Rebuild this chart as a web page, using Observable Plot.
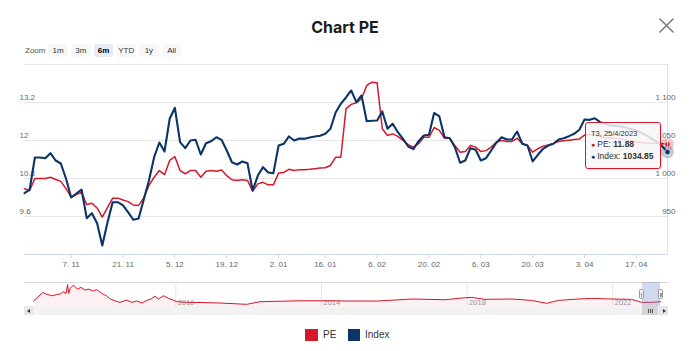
<!DOCTYPE html>
<html>
<head>
<meta charset="utf-8">
<script src="https://cdn.jsdelivr.net/npm/d3@7"></script>
<script src="https://cdn.jsdelivr.net/npm/@observablehq/plot@0.6"></script>
<style>
html,body{margin:0;padding:0;background:#fff;}
#wrap{position:relative;width:690px;height:351px;overflow:hidden;font-family:"Liberation Sans",Arial,sans-serif;background:#fff;}
#title{position:absolute;left:0;top:17px;width:690px;text-align:center;font-family:Inter,"Liberation Sans",sans-serif;font-weight:700;font-size:16px;line-height:20px;color:#1c1c1c;}
#close{position:absolute;left:658px;top:17px;width:17px;height:17px;}
#zoomrow{position:absolute;left:25px;top:44px;height:13px;display:flex;align-items:center;font-size:8px;color:#333;}
#zoomrow .lbl{width:23.3px;color:#555;}
#zoomrow .btn{width:19.7px;height:13px;line-height:13px;margin-right:3px;text-align:center;background:#f7f7f7;border-radius:2px;color:#333;}
#zoomrow .btn.sel{background:#e6ebf5;font-weight:bold;color:#000;}
.layer{position:absolute;left:0;}
#tip{position:absolute;left:585px;top:122px;width:74px;height:45px;border:1px solid #d5182b;border-radius:3px;background:rgba(247,247,247,0.85);box-shadow:1px 1px 2px rgba(0,0,0,0.12);color:#333;}
#tip div{position:absolute;left:5px;white-space:nowrap;line-height:11px;}
#tip .h{top:4.5px;font-size:7.5px;}
#tip .l1{top:16px;font-size:8.5px;}
#tip .l2{top:28px;font-size:8.5px;}
#tip .dot{font-size:7px;margin-right:2px;}
#navtop{position:absolute;left:24px;top:282px;width:644px;height:1px;background:#d8d8d8;}
#track{position:absolute;left:24px;top:306px;width:644px;height:9px;background:#f2f2f2;}
.sbtn{position:absolute;top:306px;width:9px;height:9px;background:#e6e6e6;}
.arr{position:absolute;top:2.5px;width:0;height:0;border-top:2px solid transparent;border-bottom:2px solid transparent;}
#thumb{position:absolute;top:306px;height:9px;background:#d4d4d4;}
#grip{position:absolute;top:2.5px;width:5px;height:4px;background:repeating-linear-gradient(90deg,#555 0 1px,transparent 1px 2px);}
.handle{position:absolute;top:289px;width:5px;height:10px;background:#f2f2f2;border:1px solid #999;border-radius:1.5px;box-sizing:border-box;}
.handle i{position:absolute;top:2.5px;width:0;height:4px;border-left:1px solid #999;}
#legend{position:absolute;top:329px;left:0;width:690px;height:12px;font-size:10px;color:#333;}
#legend .sq{position:absolute;top:0;width:12.5px;height:12px;}
#legend .tx{position:absolute;top:0;line-height:12px;}
</style>
</head>
<body>
<div id="wrap">
  <div id="title">Chart PE</div>
  <svg id="close" viewBox="0 0 17 17"><path d="M1.5 1.5L15.5 15.5M15.5 1.5L1.5 15.5" stroke="#7a7a7a" stroke-width="1.5" fill="none"/></svg>
  <div id="zoomrow"></div>
  <div id="main1" class="layer" style="top:0"></div>
  <div id="main2" class="layer" style="top:0"></div>
  <div id="tip"></div>
  <div id="navtop"></div>
  <div id="navbox" class="layer" style="top:278px"></div>
  <div id="track"></div>
  <div class="sbtn" style="left:24px"><div class="arr" style="left:3px;border-right:3px solid #333"></div></div>
  <div class="sbtn" style="left:659px"><div class="arr" style="left:3.5px;border-left:3px solid #333"></div></div>
  <div id="thumb"><div id="grip"></div></div>
  <div id="legend"></div>
</div>
<script>
// ---------- data ----------
const peValues = [
10.48,10.42,10.80,10.80,10.80,10.84,10.77,10.71,10.48,10.21,
10.29,10.37,9.98,10.02,9.87,9.58,9.88,10.18,10.18,10.12,
10.07,9.96,9.95,10.19,10.58,10.84,11.05,10.92,11.37,11.49,
11.05,10.95,11.05,11.05,10.84,11.03,11.05,11.03,11.07,10.89,
10.76,10.74,10.76,10.74,10.40,10.63,10.68,10.60,10.60,10.97,
10.99,11.09,11.05,11.08,11.08,11.09,11.11,11.13,11.14,11.21,
11.47,11.47,13.00,13.14,13.19,13.32,13.74,13.84,13.82,12.37,
12.16,12.21,12.13,12.00,11.87,11.79,11.90,12.10,12.10,12.41,
12.32,12.07,12.07,11.84,11.63,11.65,11.84,11.79,11.65,11.68,
11.79,11.95,12.00,11.97,11.97,12.07,11.90,11.84,11.63,11.74,
11.82,11.86,11.91,11.97,11.99,12.01,12.03,12.05,12.17,12.19,
12.17,12.13,12.09,12.08,12.06,12.05,12.02,11.98,11.95,11.94,
11.92,11.91,11.91,11.90,11.88
];
const indexValues = [
980.7,985.5,1027.6,1027.6,1026.7,1033.3,1023.7,1019.7,1000.0,975.0,
980.3,985.5,947.8,954.3,941.2,911.8,942.1,968.8,968.8,964.5,
955.3,945.7,947.4,972.4,997.4,1028.0,1047.4,1035.5,1078.6,1093.0,
1047.8,1039.9,1050.0,1050.9,1031.6,1046.4,1049.1,1054.3,1050.9,1036.8,
1021.4,1018.4,1022.4,1020.1,984.2,1003.9,1014.9,1007.9,1007.0,1043.4,
1045.7,1055.3,1050.0,1052.6,1052.2,1053.9,1055.3,1056.2,1058.8,1065.4,
1086.8,1098.3,1106.6,1115.8,1100.4,1109.2,1075.4,1075.9,1076.3,1088.2,
1065.4,1072.0,1060.9,1052.2,1042.1,1038.6,1049.1,1056.6,1057.5,1086.2,
1081.6,1054.3,1053.0,1041.2,1020.7,1023.7,1039.9,1037.8,1023.7,1026.7,
1036.8,1047.0,1054.3,1051.3,1051.3,1061.8,1045.7,1043.4,1022.4,1031.2,
1039.1,1043.4,1045.7,1051.3,1053.0,1055.7,1058.8,1064.1,1077.6,1077.2,
1079.3,1074.1,1071.7,1069.7,1069.1,1068.4,1067.1,1065.1,1063.2,1059.9,
1056.6,1052.0,1048.0,1042.1,1034.85
];
// x tick labels and the trading-day index they sit on
const tickLabels = ["7. 11","21. 11","5. 12","19. 12","2. 01","16. 01","6. 02","20. 02","6. 03","20. 03","3. 04","17. 04"];
const tickIndex  = [9,19,29,39,49,58,68,78,88,98,108,118];
const peDomain = [8.4, 14.4];
const peTicks = [9.6, 10.8, 12, 13.2, 14.4];
const indexDomain = [900, 1150];
const indexTicks = [950, 1000, 1050, 1100];
const hoverLabel = "T3, 25/4/2023";
const windowStart = "2022-10-25", windowEnd = "2023-04-25";

// navigator (long history of PE)
const navDates = ["2006-02-03","2006-05-08","2006-06-18","2006-08-15","2006-09-24","2006-10-27","2006-11-28","2006-12-27",
"2007-01-11","2007-01-22","2007-02-06","2007-03-10","2007-04-20","2007-05-26","2007-07-05","2007-08-08","2007-09-28","2007-10-31","2007-12-20",
"2008-02-03","2008-03-15","2008-05-05","2008-06-20","2008-08-25","2008-10-15","2008-12-05",
"2009-01-27","2009-03-15","2009-04-28","2009-06-07","2009-07-10","2009-08-30","2009-10-20","2009-12-05",
"2010-01-12","2010-04-20","2010-09-01","2011-03-20","2011-12-13","2012-04-22","2013-05-30","2014-04-26","2014-08-25",
"2015-07-20","2016-06-25","2017-05-22","2017-12-10","2018-02-17","2018-06-28","2019-03-25","2019-10-08",
"2020-03-10","2020-07-05","2021-01-18","2021-06-02","2021-12-20","2022-07-08","2022-10-20","2023-01-25","2023-04-25"];
const navPE = [13.3,24.1,21.6,19.9,21.6,22.0,24.9,22.9,
34.1,22.9,29.1,33.3,28.3,30.4,27.0,28.3,25.8,27.4,22.9,
19.9,15.8,13.3,11.6,14.5,11.6,13.3,
10.8,14.1,15.8,19.5,15.8,19.9,16.6,14.5,
12.4,11.6,11.4,10.8,9.1,12.4,13.6,13.6,13.3,
13.3,15.8,14.9,17.4,17.9,15.4,15.8,14.1,
10.4,14.1,15.8,16.6,15.8,15.4,11.6,11.6,12.4];
const navYDomain = [6.4, 36.6];
const navYears = ["2010","2014","2018","2022"];
const zoomButtons = ["1m","3m","6m","YTD","1y","All"];
const selectedButton = "6m";

// ---------- styling ----------
const RED = "#d5182b", NAVY = "#0b3467";
const AXIS_TEXT = "#666";
const font = "'Liberation Sans', Arial, sans-serif";
const N = peValues.length;
const labelOf = new Map(tickIndex.map((t, i) => [t, tickLabels[i]]));
const fmtIndex = d => d >= 1000 ? d3.format(",")(d).replace(/,/g, " ") : String(d);

const frame = {width: 690, height: 280, marginLeft: 24, marginRight: 23, marginTop: 64, marginBottom: 26};

// layer 1: grid, x axis, PE line (left scale)
const p1 = Plot.plot({
  ...frame,
  style: {fontFamily: font, fontSize: "8px", background: "transparent", overflow: "visible"},
  x: {domain: [0, N - 1], axis: null},
  y: {domain: peDomain, axis: null},
  marks: [
    Plot.gridY(peTicks, {stroke: "#e6e6e6", strokeOpacity: 1}),
    Plot.ruleY([peDomain[0]], {stroke: "#ccd6eb"}),
    Plot.axisX(tickIndex, {anchor: "bottom", tickFormat: d => labelOf.get(d), tickSize: 4, tickPadding: 3,
      stroke: "#ccd6eb", color: AXIS_TEXT, fontSize: 8, label: null}),
    Plot.text(peTicks.filter(d => d < peDomain[1]), {y: d => d, text: d => String(d), frameAnchor: "left",
      textAnchor: "start", dx: -5, dy: -5, fill: AXIS_TEXT, fontSize: 8}),
    Plot.lineY(peValues, {x: (d, i) => i, y: d => d, stroke: RED, strokeWidth: 1.5}),
    Plot.dot([N - 1], {x: d => d, y: d => peValues[d], r: 6.5, fill: RED, fillOpacity: 0.25, stroke: null}),
    Plot.dot([N - 1], {x: d => d, y: d => peValues[d], r: 2.8, fill: RED, stroke: "white", strokeWidth: 0.7})
  ]
});
document.getElementById("main1").appendChild(p1);

// layer 2: Index line (right scale)
const p2 = Plot.plot({
  ...frame,
  style: {fontFamily: font, fontSize: "8px", background: "transparent", overflow: "visible"},
  x: {domain: [0, N - 1], axis: null},
  y: {domain: indexDomain, axis: null},
  marks: [
    Plot.ruleX([N - 1], {stroke: "#e3e3e3"}),
    Plot.text(indexTicks, {y: d => d, text: fmtIndex, frameAnchor: "right", textAnchor: "end",
      dx: 8, dy: -5, fill: AXIS_TEXT, fontSize: 8}),
    Plot.lineY(indexValues, {x: (d, i) => i, y: d => d, stroke: NAVY, strokeWidth: 2.1}),
    Plot.dot([N - 1], {x: d => d, y: d => indexValues[d], r: 6.5, fill: NAVY, fillOpacity: 0.25, stroke: null}),
    Plot.dot([N - 1], {x: d => d, y: d => indexValues[d], r: 2.8, fill: NAVY, stroke: "white", strokeWidth: 0.7})
  ]
});
document.getElementById("main2").appendChild(p2);

// tooltip
document.getElementById("tip").innerHTML =
  `<div class="h">${hoverLabel}</div>` +
  `<div class="l1"><span class="dot" style="color:${RED}">\u25CF</span>PE: <b>${peValues[N-1].toFixed(2)}</b></div>` +
  `<div class="l2"><span class="dot" style="color:${NAVY}">\u25CF</span>Index: <b>${indexValues[N-1].toFixed(2)}</b></div>`;

// zoom buttons
const zr = document.getElementById("zoomrow");
zr.innerHTML = `<span class="lbl">Zoom</span>` +
  zoomButtons.map(b => `<span class="btn${b === selectedButton ? " sel" : ""}">${b}</span>`).join("");

// navigator
const navData = navDates.map((d, i) => ({date: new Date(d), v: navPE[i]}));
const win = [{start: new Date(windowStart), end: new Date(windowEnd)}];
const nav = Plot.plot({
  width: 690, height: 32, marginLeft: 33, marginRight: 30, marginTop: 4, marginBottom: 4,
  style: {fontFamily: font, fontSize: "7.5px", background: "transparent", overflow: "visible"},
  x: {type: "utc", domain: [navData[0].date, navData[navData.length - 1].date], axis: null},
  y: {domain: navYDomain, axis: null},
  marks: [
    Plot.ruleX(navYears, {x: d => new Date(d + "-01-01"), stroke: "#e6e6e6"}),
    Plot.text(navYears, {x: d => new Date(d + "-01-01"), text: d => d, frameAnchor: "bottom", lineAnchor: "bottom",
      textAnchor: "start", dx: 2, dy: -1.5, fill: "#999", fontSize: 7.5}),
    Plot.areaY(navData, {x: "date", y1: navYDomain[0], y2: "v", fill: RED, fillOpacity: 0.06}),
    Plot.lineY(navData, {x: "date", y: "v", stroke: RED, strokeWidth: 1}),
    Plot.rect(win, {x1: "start", x2: "end", fill: "#6685c2", fillOpacity: 0.3})
  ]
});
document.getElementById("navbox").appendChild(nav);

// handles & scrollbar thumb placed through the navigator's x scale
const nx = nav.scale("x");
const xs = nx.apply(win[0].start), xe = nx.apply(win[0].end);
const wrap = document.getElementById("wrap");
[xs, xe].forEach(x => {
  const h = document.createElement("div");
  h.className = "handle";
  h.style.left = (x - 2.5) + "px";
  h.innerHTML = `<i style="left:1px"></i><i style="left:2.5px"></i>`;
  wrap.appendChild(h);
});
const thumb = document.getElementById("thumb");
thumb.style.left = xs + "px";
thumb.style.width = (xe - xs - 1.5) + "px";
document.getElementById("grip").style.left = ((xe - xs - 1.5) / 2 - 2.5) + "px";

// legend
const legendItems = [["PE", RED, 305, 323], ["Index", NAVY, 347.5, 365]];
document.getElementById("legend").innerHTML = legendItems.map(([n, c, sx, tx]) =>
  `<div class="sq" style="left:${sx}px;background:${c}"></div><div class="tx" style="left:${tx}px">${n}</div>`).join("");
</script>
</body>
</html>
